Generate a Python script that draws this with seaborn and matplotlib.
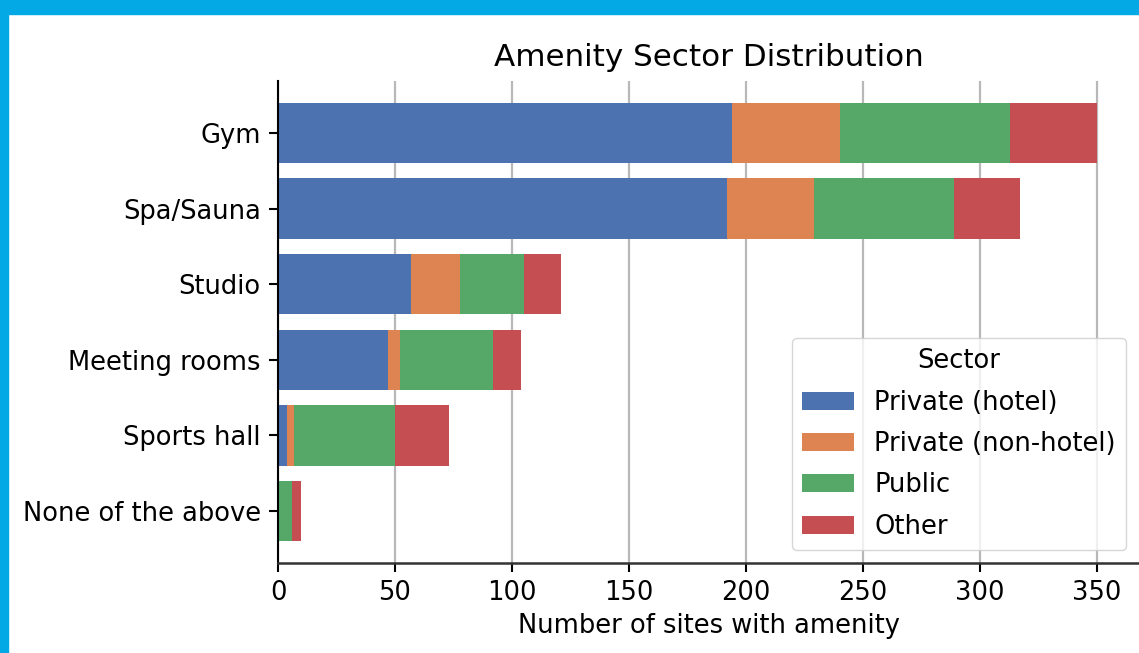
import matplotlib
matplotlib.use("Agg")
import matplotlib.pyplot as plt
import seaborn as sns
import numpy as np
import pandas as pd
from matplotlib.patches import Rectangle

amenities = ["Gym", "Spa/Sauna", "Studio", "Meeting rooms", "Sports hall", "None of the above"]
sectors = ["Private (hotel)", "Private (non-hotel)", "Public", "Other"]
private_hotel = [194, 192, 57, 47, 4, 0]
private_nonhotel = [46, 37, 21, 5, 3, 0]
public = [73, 60, 27, 40, 43, 6]
other = [37, 28, 16, 12, 23, 4]
xticks = [0, 50, 100, 150, 200, 250, 300, 350]

FS = 18.5
plt.rcParams["font.family"] = ["DejaVu Sans"]
plt.rcParams["font.size"] = FS

palette = sns.color_palette("deep")
fig = plt.figure(figsize=(11.39, 6.53), dpi=100)
fig.patch.set_facecolor("white")
ax = fig.add_axes([278/1139, (653-563)/653, (1139-278)/1139, (563-81)/653])

df = pd.DataFrame({"amenity": amenities,
                   sectors[0]: private_hotel, sectors[1]: private_nonhotel,
                   sectors[2]: public, sectors[3]: other})
cum = df[sectors].cumsum(axis=1)

for i in reversed(range(len(sectors))):
    sns.barplot(x=cum[sectors[i]], y=df["amenity"], orient="h", color=palette[i],
                label=sectors[i], ax=ax, saturation=1, width=0.8)

ax.set_ylim(5.69, -0.69)
ax.set_axisbelow(True)
ax.grid(axis="x", color="#b8b8b8", linewidth=1.6)
ax.grid(axis="y", visible=False)
ax.spines["top"].set_visible(False)
ax.spines["right"].set_visible(False)
ax.spines["left"].set_linewidth(1.5)
ax.spines["bottom"].set_linewidth(1.8)
ax.spines["bottom"].set_color("#333333")
ax.set_xlim(0, 368)
ax.set_xticks(xticks)
ax.set_xlabel("Number of sites with amenity", fontsize=FS, labelpad=5)
ax.set_ylabel("")
ax.set_title("Amenity Sector Distribution", fontsize=22.3, pad=11)
ax.tick_params(labelsize=FS, length=6.5, width=1.5, pad=6)

h, l = ax.get_legend_handles_labels()
order = [l.index(s) for s in sectors]
ax.legend([h[k] for k in order], [l[k] for k in order], title="Sector",
          loc="lower right", fontsize=FS, title_fontsize=FS, labelspacing=0.6)

blue = "#03A9E4"
fig.patches.append(Rectangle((0, 0), 8/1139, 1, transform=fig.transFigure, color=blue, zorder=10))
fig.patches.append(Rectangle((0, 1-14/653), 1, 14/653, transform=fig.transFigure, color=blue, zorder=10))

fig.savefig("out.png", dpi=100)
